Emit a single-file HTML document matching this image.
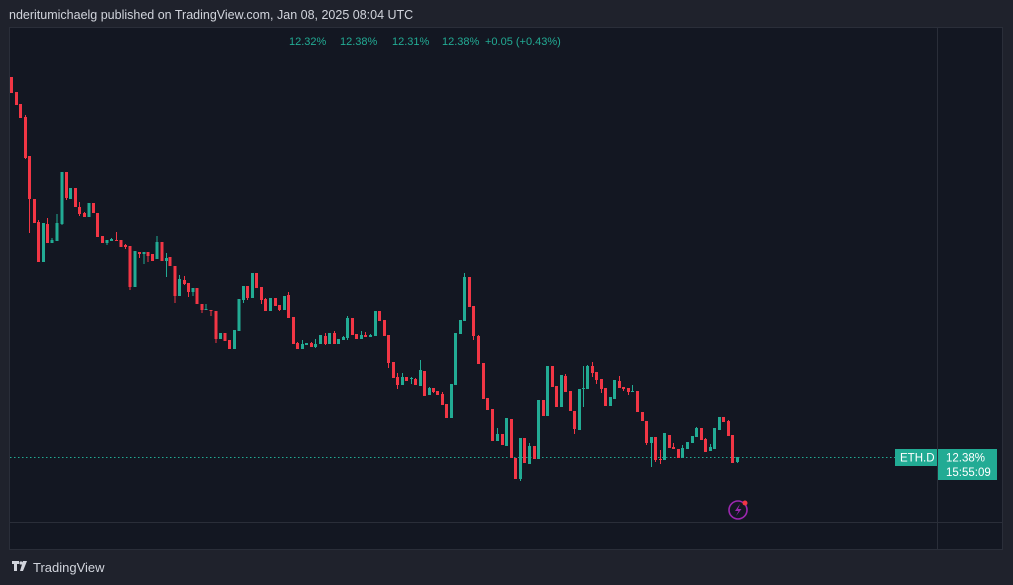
<!DOCTYPE html>
<html><head><meta charset="utf-8"><style>
html,body{margin:0;padding:0;background:#1f222c;width:1013px;height:585px;overflow:hidden;font-family:"Liberation Sans",sans-serif}
</style></head><body>
<svg id="s" width="1013" height="585" xmlns="http://www.w3.org/2000/svg" style="position:absolute;left:0;top:0">
<rect x="0" y="0" width="1013" height="585" fill="#1f222c"/>
<text x="9" y="19" fill="#d1d4dc" font-size="12.5" font-family="Liberation Sans, sans-serif">nderitumichaelg published on TradingView.com, Jan 08, 2025 08:04 UTC</text>
<rect x="9.5" y="27.5" width="993" height="522" fill="#131722" stroke="#2a2e39"/>
<line x1="937.5" y1="28" x2="937.5" y2="550" stroke="#2a2e39"/>
<line x1="10" y1="522.5" x2="1003" y2="522.5" stroke="#2a2e39"/>
<g fill="#22ab94" font-size="11" font-family="Liberation Sans, sans-serif">
<text x="289" y="45">12.32%</text><text x="340" y="45">12.38%</text><text x="392" y="45">12.31%</text><text x="442" y="45">12.38%</text><text x="485" y="45">+0.05 (+0.43%)</text>
</g>
<line x1="10" y1="457.5" x2="895" y2="457.5" stroke="#22ab94" stroke-dasharray="1.5 2.5"/>
<rect x="895" y="449" width="42" height="17" fill="#22ab94"/>
<text x="900" y="461.5" fill="#fff" font-size="11.5">ETH.D</text>
<rect x="938" y="449" width="59" height="31" fill="#22ab94"/>
<text x="946" y="461.5" fill="#fff" font-size="11.5">12.38%</text>
<text x="946" y="476" fill="#fff" font-size="11.5">15:55:09</text>
<circle cx="738" cy="510" r="9" fill="none" stroke="#9c27b0" stroke-width="1.6"/>
<path d="M740 504 L735 511 L738.5 511 L736 516 L741.5 509 L738 509 Z" fill="#9c27b0"/>
<circle cx="745" cy="503" r="2.5" fill="#f23645"/>
<g fill="#d1d4dc"><path d="M12 561h7v3h-2v7h-3v-7h-2z"/><circle cx="21" cy="563" r="1.6"/><path d="M23 561h4l-4 10h-3z"/></g>
<text x="33" y="572" fill="#d1d4dc" font-size="13">TradingView</text>
<g id="c"></g>
</svg>
<script>
var d=[
[11.5,77,93,77,93,0],[16.5,92,105,92,105,0],[20.5,104,118,104,118,0],[25.5,117,158,115,159,0],[29.5,156,199,156,233,0],[34.5,199,223,199,223,0],[38.5,222,262,220,262,0],[43.5,262,223,223,262,1],[47.5,224,243,218,243,0],[52,243,240,238,243,1],[57,241,223,214,241,1],[62,224,172,172,225,1],[66.5,172,198,172,200,0],[70.5,199,188,188,199,1],[75.5,188,207,188,207,0],[79.5,207,214,202,216,0],[84.5,213,217,212,217,0],[89,217,203,203,217,1],[93.5,203,213,203,213,0],[97.5,213,237,213,237,0],[102.5,236,243,236,243,0],[107,243,240,240,245,1],[111.5,241,239,238,241,1],[116.5,240,241,232,241,0],[121,240,247,240,247,0],[125.5,245,247,244,249,0],[130,246,287,246,290,0],[135,287,251,251,287,1],[139.5,252,254,252,258,0],[144,254,252,252,264,1],[148,252,256,252,262,0],[152.5,254,261,254,261,0],[157,259,242,236,259,1],[162,242,261,242,261,0],[166.5,261,258,253,277,1],[170,257,266,257,266,0],[175,266,296,266,303,0],[179.5,296,279,275,296,1],[184.5,280,284,276,285,0],[188.5,283,292,283,297,0],[193,292,288,288,296,1],[197,288,304,288,304,0],[202,304,310,304,313,0],[206,310,309,304,310,1],[211,310,311,310,316,0],[216,311,339,311,343,0],[220.5,339,333,333,339,1],[225,333,341,333,341,0],[229.5,340,349,340,349,0],[234.5,349,330,330,349,1],[239,331,299,299,331,1],[243.5,300,286,286,303,1],[247.5,286,298,286,300,0],[252.5,298,273,273,298,1],[256.5,273,288,273,288,0],[261.5,287,300,287,304,0],[265.5,299,311,298,311,0],[270.5,311,298,298,311,1],[275.5,298,306,298,306,0],[279.5,305,310,305,311,0],[284.5,310,296,296,310,1],[288.5,295,318,292,318,0],[293.5,317,344,317,344,0],[297.5,343,349,342,349,0],[302.5,349,344,340,349,1],[306.5,345,343,343,345,1],[311.5,343,347,342,347,0],[315.5,347,344,339,348,1],[320.5,344,335,335,344,1],[325.5,336,344,333,345,0],[329.5,344,333,333,344,1],[334.5,333,344,331,344,0],[338.5,344,339,339,344,1],[343.5,340,337,336,340,1],[347.5,338,318,316,340,1],[352.5,318,335,318,335,0],[356.5,334,339,334,339,0],[361.5,339,335,331,339,1],[365.5,335,337,332,337,0],[370.5,337,335,334,337,1],[375.5,336,311,311,336,1],[379.5,311,321,311,321,0],[384.5,320,336,320,336,0],[388.5,335,363,335,368,0],[393.5,362,378,362,378,0],[397.5,377,385,373,389,0],[402.5,385,377,373,385,1],[406.5,377,381,377,381,0],[411.5,379,378,377,384,1],[415.5,379,385,378,385,0],[420.5,386,370,360,386,1],[424.5,371,396,371,396,0],[429.5,395,388,387,395,1],[433.5,388,392,388,393,0],[437.5,391,395,391,395,0],[442.5,394,405,392,405,0],[446.5,404,418,404,418,0],[451.5,418,384,384,418,1],[455.5,385,333,333,385,1],[460.5,334,320,320,334,1],[464.5,321,277,273,321,1],[469.5,277,307,277,307,0],[473.5,306,336,306,340,0],[478.5,336,364,335,364,0],[483.5,363,399,363,399,0],[487.5,398,410,398,410,0],[492.5,409,441,409,441,0],[497.5,441,434,428,441,1],[502.5,434,445,434,445,0],[506.5,446,418,418,446,1],[511.5,419,458,419,458,0],[515.5,458,479,458,479,0],[520.5,479,438,438,481,1],[524.5,438,463,438,463,0],[529.5,464,446,443,464,1],[534.5,446,459,446,459,0],[538.5,459,400,400,459,1],[543.5,400,416,400,416,0],[547.5,416,366,366,416,1],[552.5,366,387,366,387,0],[556.5,386,407,386,407,0],[561.5,407,375,375,407,1],[565.5,376,392,374,392,0],[570.5,391,411,391,411,0],[574.5,411,429,411,434,0],[579.5,430,389,389,430,1],[583.5,389,388,366,407,1],[587.5,389,366,365,389,1],[592.5,366,373,362,377,0],[596.5,372,380,372,384,0],[601.5,379,389,379,393,0],[605.5,388,406,388,406,0],[610.5,406,397,397,406,1],[614.5,399,380,380,399,1],[619.5,381,388,376,388,0],[623.5,387,389,387,391,0],[628.5,388,392,388,395,0],[632.5,392,391,385,392,1],[637.5,391,412,391,412,0],[642.5,412,421,412,421,0],[646.5,421,443,421,445,0],[651.5,443,437,437,467,1],[655.5,437,460,437,462,0],[660.5,459,460,450,464,0],[664.5,460,433,433,460,1],[669.5,435,448,435,448,0],[673.5,447,449,443,449,0],[678.5,449,458,449,458,0],[682.5,458,448,445,458,1],[687.5,449,442,442,449,1],[692.5,443,436,436,443,1],[696.5,437,428,427,437,1],[701.5,428,440,428,440,0],[705.5,439,452,438,452,0],[710.5,451,447,444,451,1],[714.5,449,428,428,449,1],[719.5,430,417,417,430,1],[723.5,417,422,417,422,0],[728.5,421,436,420,436,0],[732.5,435,463,435,463,0],[737.5,462,457,457,463,1]];
var g=document.getElementById('c'),h='';
d.forEach(function(c){var col=c[5]?'#22ab94':'#f23645';var t=Math.min(c[1],c[2]),b=Math.max(c[1],c[2]);
h+='<line x1="'+c[0]+'" x2="'+c[0]+'" y1="'+c[3]+'" y2="'+c[4]+'" stroke="'+col+'" stroke-width="1"/>';
h+='<rect x="'+(c[0]-1.5)+'" y="'+t+'" width="3" height="'+Math.max(1,b-t)+'" fill="'+col+'"/>';});
g.innerHTML=h;
</script>
</body></html>
